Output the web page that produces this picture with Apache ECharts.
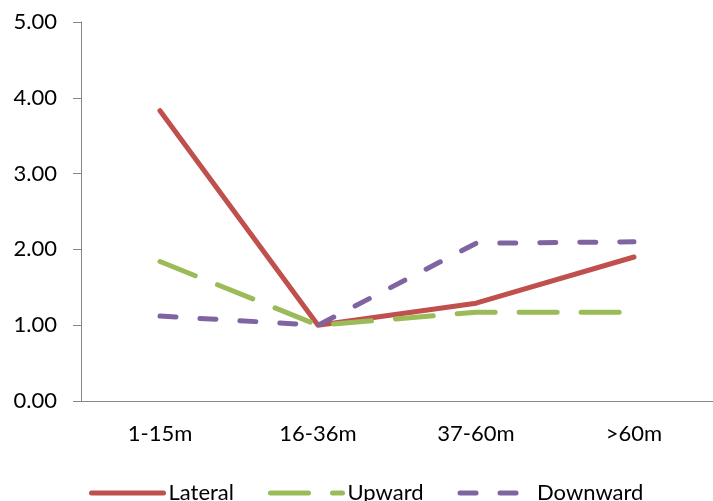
<!DOCTYPE html>
<html><head><meta charset="utf-8">
<script src="https://cdn.jsdelivr.net/npm/echarts@6/dist/echarts.min.js"></script>
<style>html,body{margin:0;padding:0;background:#fff}#c{width:713px;height:501px}</style>
</head><body><div id="c"></div>
<script>
const categories = ['1-15m', '16-36m', '37-60m', '>60m'];
const lateral = [3.83, 1.00, 1.29, 1.90];
const upward = [1.84, 1.00, 1.17, 1.17];
const downward = [1.12, 1.00, 2.08, 2.10];
const yTicks = [0, 1, 2, 3, 4, 5];

const font = 'Lato, "Open Sans", sans-serif';
const chart = echarts.init(document.getElementById('c'));
chart.setOption({
  animation: false,
  grid: { left: 81, right: -8, top: 22, bottom: 100, containLabel: false },
  legend: {
    bottom: -8, left: 84, itemWidth: 72, itemHeight: 14, itemGap: 34,
    textStyle: { fontFamily: font, fontSize: 22, color: '#000' },
    itemStyle: { color: 'transparent', borderWidth: 0, opacity: 0 },
    lineStyle: { width: 5, cap: 'round' },
    data: ['Lateral', 'Upward', 'Downward']
  },
  xAxis: {
    type: 'category', data: categories, boundaryGap: true,
    axisLine: { lineStyle: { color: '#868686', width: 1 } },
    axisTick: { length: 7, lineStyle: { color: '#868686' } },
    axisLabel: { fontFamily: font, fontSize: 22, color: '#000', margin: 22 }
  },
  yAxis: {
    type: 'value', min: yTicks[0], max: yTicks[yTicks.length - 1], interval: 1,
    axisLine: { show: true, lineStyle: { color: '#868686', width: 1 } },
    axisTick: { show: true, length: 8, lineStyle: { color: '#868686' } },
    splitLine: { show: false },
    axisLabel: { fontFamily: font, fontSize: 22, color: '#000', margin: 24,
      formatter: v => v.toFixed(2) }
  },
  series: [
    { name: 'Lateral', type: 'line', data: lateral, symbol: 'none',
      lineStyle: { color: '#C0504D', width: 5, cap: 'round', join: 'round' },
      itemStyle: { color: '#C0504D' } },
    { name: 'Upward', type: 'line', data: upward, symbol: 'none',
      lineStyle: { color: '#9BBB59', width: 5, type: [38, 24], cap: 'round', join: 'round' },
      itemStyle: { color: '#9BBB59' } },
    { name: 'Downward', type: 'line', data: downward, symbol: 'none',
      lineStyle: { color: '#8064A2', width: 5, type: [16, 24], cap: 'round', join: 'round' },
      itemStyle: { color: '#8064A2' } }
  ]
});
</script></body></html>
